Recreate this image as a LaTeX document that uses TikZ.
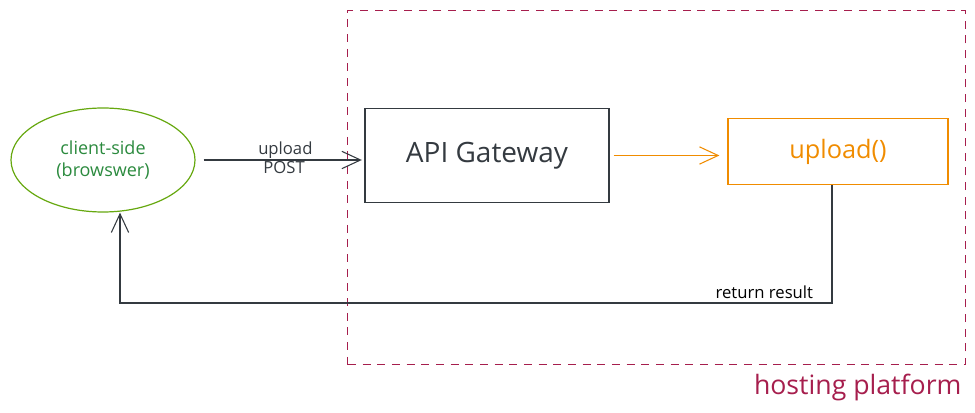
\documentclass[tikz,border=0pt]{standalone}
\usepackage{fontspec}
\setmainfont{Open Sans}
\usepackage{tikz}
\usetikzlibrary{shapes.geometric, arrows.meta}
\usepackage{xcolor}
\definecolor{clientgreen}{HTML}{66A80F}
\definecolor{clienttext}{HTML}{2B8A3E}
\definecolor{fnorange}{HTML}{F08C00}
\definecolor{hostred}{HTML}{A61E4D}
\definecolor{ink}{HTML}{343A40}

\begin{document}
\begin{tikzpicture}[x=0.75pt, y=-0.75pt,
    flow/.style={draw=ink, line width=0.8pt, -{Straight Barb[length=14pt, width=13pt]}},
    box/.style={draw=ink, line width=0.8pt, minimum width=183pt, minimum height=71pt},
    fnbox/.style={draw=fnorange, line width=0.9pt, minimum width=165pt, minimum height=50pt},
    hostbox/.style={draw=hostred, dashed, dash pattern=on 6pt off 5pt, line width=0.8pt, minimum width=463pt, minimum height=266pt},
    small/.style={font=\fontsize{12.5}{14}\selectfont, text=ink, inner sep=1pt}]
    \useasboundingbox (0,0) rectangle (975,413);
    % hosting platform
    \node[hostbox] (host) at (656.5,187.5) {};
    \node[anchor=north east, text=hostred, font=\fontsize{20}{24}\selectfont, inner sep=0pt] (hostname) at ([xshift=-3pt, yshift=-6pt]host.south east) {hosting platform};
    % nodes
    \node[ellipse, draw=clientgreen, line width=0.9pt, minimum width=138pt, minimum height=78pt, inner sep=0pt, align=center, text=clienttext, font=\fontsize{13.5}{17}\selectfont] (client) at (103,160) {client-side\\(browswer)};
    \node[box, text=ink, font=\fontsize{21}{24}\selectfont] (gateway) at (487,155.5) {API Gateway};
    \node[fnbox, text=fnorange, font=\fontsize{19}{22}\selectfont] (upload) at (838,151.5) {upload()};
    % arrows
    \draw[flow, shorten <=6pt, shorten >=2pt] (client.east) -- (client.east -| gateway.west)
        node[midway, above, small, xshift=4pt] {upload}
        node[midway, below, small, xshift=3pt] {POST};
    \draw[flow, draw=fnorange, shorten <=3pt, shorten >=6pt] (gateway.east) -- (gateway.east -| upload.west);
    \coordinate (retcorner) at (832,303);
    \coordinate (retend) at (120,303);
    \draw[flow] ([xshift=-4.5pt]upload.south) -- (retcorner) -- (retend) -- (client.south -| retend);
    \node[small, text=black, anchor=south east] (retlabel) at ([xshift=-13pt, yshift=2pt]retcorner) {return result};
\end{tikzpicture}
\end{document}
